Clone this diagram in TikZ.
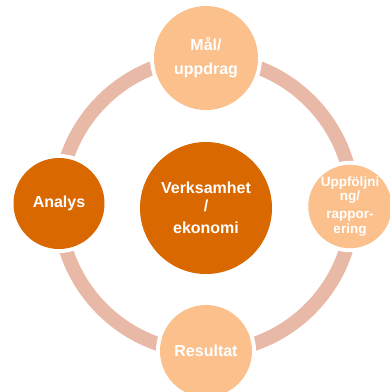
\documentclass[tikz,border=0pt]{standalone}
\usepackage{fontspec}
\setmainfont{Liberation Sans}
\begin{document}
\definecolor{peach}{HTML}{FBC08B}
\definecolor{rust}{HTML}{DA6800}
\definecolor{ringc}{HTML}{E9B9A7}
\begin{tikzpicture}[x=1pt,y=-1pt,
  stage/.style={circle, inner sep=0pt, text=white, align=center,
    font=\bfseries\fontsize{16}{18}\selectfont,
    preaction={draw=white, line width=8pt}},
  light/.style={stage, fill=peach},
  dark/.style={stage, fill=rust},
  ringline/.style={draw=ringc, line width=14pt}]
  \useasboundingbox (0,0) rectangle (390,392);
  % the cycle ring behind the stages
  \coordinate (hub) at (206,205);
  \draw[ringline] (hub) circle (147pt);
  % centre
  \node[dark, minimum size=132pt] (core) at (206,208)
    {Verksamhet\\/\\[4pt]ekonomi};
  % stages around the ring
  \node[light, minimum size=104pt] (mal) at (206,58)
    {Mål/\\[6pt]uppdrag};
  \node[light, minimum size=83pt, font=\bfseries\fontsize{13.5}{14}\selectfont] (upp) at (350,206.5)
    {Uppföljni\\ng/\\[4pt]rappor-\\[1pt]ering};
  \node[light, minimum size=92pt] (res) at (206,351) {Resultat};
  \node[dark, minimum size=91pt] (ana) at (59,203.5) {Analys};
\end{tikzpicture}
\end{document}
